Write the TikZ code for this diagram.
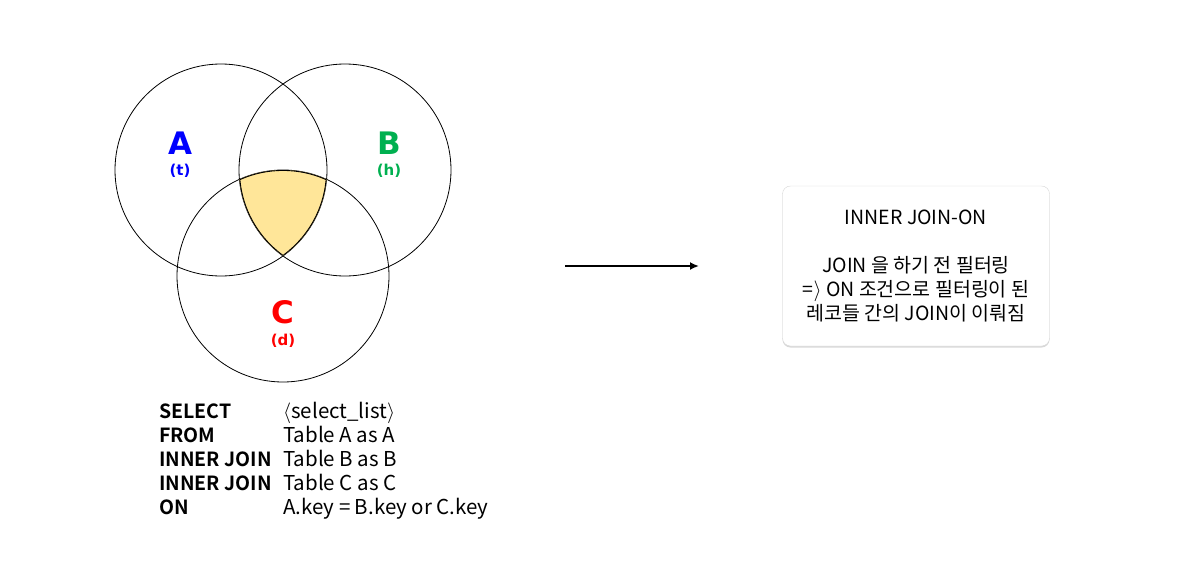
\documentclass[tikz,border=0pt]{standalone}
\usepackage{fontspec}
\setmainfont{Noto Sans CJK KR}[BoldFont={Noto Sans CJK KR Bold}]
\newfontfamily\heavy{DejaVu Sans}
\usetikzlibrary{arrows,arrows.meta,shapes,shadows,positioning}
\definecolor{setA}{RGB}{0,0,255}
\definecolor{setB}{RGB}{0,176,80}
\definecolor{setC}{RGB}{255,0,0}
\definecolor{hlfill}{RGB}{255,230,153}
\tikzstyle{venn}=[draw,circle,minimum size=212pt,inner sep=0,line width=0.8pt]
\tikzstyle{setlbl}=[inner sep=0,font=\heavy\bfseries\fontsize{31}{31}\selectfont]
\tikzstyle{setsub}=[inner sep=0,font=\heavy\bfseries\fontsize{15}{15}\selectfont]
\tikzstyle{sqlkw}=[anchor=base west,inner sep=0,font=\bfseries\fontsize{19.5}{24}\selectfont]
\tikzstyle{sqlarg}=[anchor=base west,inner sep=0,font=\fontsize{20.5}{24}\selectfont]
\tikzstyle{note}=[draw=black!16,fill=white,rounded corners=8pt,
                drop shadow={shadow xshift=0pt,shadow yshift=-1.5pt,fill=black!30},
                minimum width=267pt,minimum height=160pt,align=center,
                font=\fontsize{19.5}{24}\selectfont]

\begin{document}
\begin{tikzpicture}[x=1pt,y=-1pt,>=stealth]
  \useasboundingbox (0,0) rectangle (1184,563);

  % the three sets
  \node[venn] (A) at (221,170) {};
  \node[venn] (B) at (345,170) {};
  \node[venn] (C) at (283,276) {};
  \begin{scope}
    \clip (A.center) circle (106);
    \clip (B.center) circle (106);
    \clip (C.center) circle (106);
    \fill[hlfill] (C.center) circle (106);
    \draw[line width=1.8pt] (A.center) circle (106) (B.center) circle (106) (C.center) circle (106);
  \end{scope}

  \node[setlbl,text=setA] (Alab) at (180,143) {A};
  \node[setsub,text=setA] (Asub) at (180,171) {(t)};
  \node[setlbl,text=setB] (Blab) at (389,143) {B};
  \node[setsub,text=setB] (Bsub) at (389,171) {(h)};
  \node[setlbl,text=setC] (Clab) at (283,312) {C};
  \node[setsub,text=setC] (Csub) at (283,341) {(d)};

  % query
  \foreach \kw/\arg [count=\i] in {SELECT/{$\langle$select\_list$\rangle$},FROM/Table A as A,
      INNER JOIN/Table B as B,INNER JOIN/Table C as C,ON/A.key = B.key or C.key} {
    \node[sqlkw] (kw\i) at (159,{394+24*\i}) {\kw};
    \node[sqlarg] (arg\i) at (283,{394+24*\i}) {\arg};
  }

  % result
  \coordinate (arrS) at (565,266);
  \coordinate (arrE) at (699,266);
  \draw[-{Latex[length=9pt,width=8pt]},line width=2pt] (arrS) -- (arrE);
  \node[note] (res) at (916,266) {INNER JOIN-ON\\[24pt]
    JOIN 을 하기 전 필터링\\
    =$\rangle$ ON 조건으로 필터링이 된\\
    레코들 간의 JOIN이 이뤄짐};
\end{tikzpicture}
\end{document}
